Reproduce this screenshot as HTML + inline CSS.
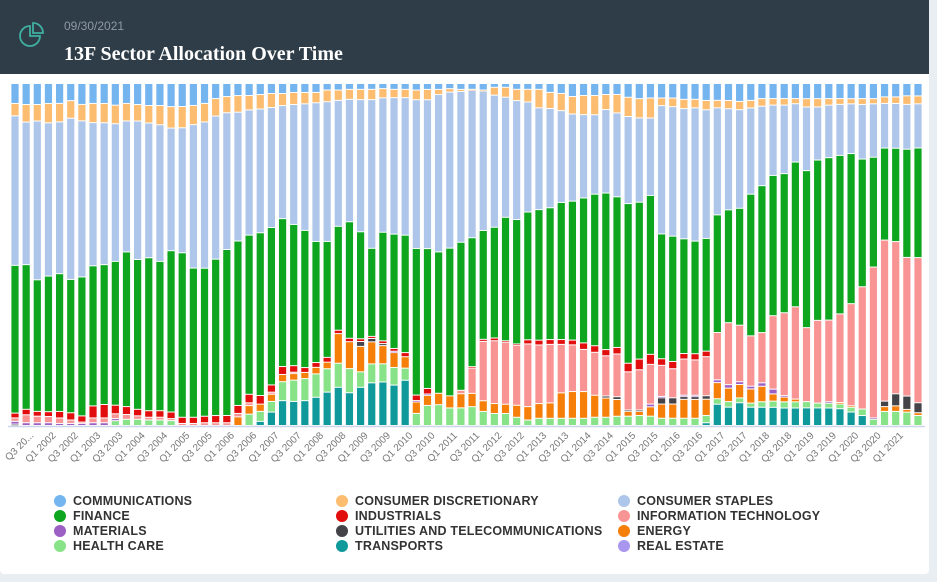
<!DOCTYPE html>
<html><head><meta charset="utf-8">
<style>
body{margin:0;width:937px;height:582px;background:#e9eef2;font-family:"Liberation Sans",sans-serif;overflow:hidden;position:relative}
.card{position:absolute;left:0;top:0;width:929px;height:574px;background:#fff;border-radius:0 0 4px 4px}
.hdr{position:absolute;left:0;top:0;width:929px;height:74px;background:#2e3d48}
.date{position:absolute;left:64px;top:19px;font-size:12px;color:#8e9aa3}
.title{position:absolute;left:64px;top:43px;font-family:"Liberation Serif",serif;font-weight:bold;font-size:20px;color:#fff}
.leg{position:absolute;font-size:12.5px;font-weight:bold;color:#333;letter-spacing:0.2px}
.leg span{display:inline-block;width:12px;height:12px;border-radius:50%;vertical-align:-2px;margin-right:7px}
</style></head><body>
<div class="card"></div>
<div class="hdr">
<svg style="position:absolute;left:19px;top:21px" width="28" height="26" viewBox="0 0 28 26"><path d="M11 5 A10 10 0 1 0 21 15 L11 15 Z" fill="none" stroke="#3fb0a0" stroke-width="1.8"/><path d="M14 2 A10 10 0 0 1 24 12 L14 12 Z" fill="none" stroke="#3fb0a0" stroke-width="1.8"/></svg>
<div class="date">09/30/2021</div>
<div class="title">13F Sector Allocation Over Time</div>
</div>
<svg id="chart" style="position:absolute;left:0;top:0" width="937" height="582"></svg>
<div id="legend"></div>
<script>
const categories=[];(function(){let y=2001,q=2;for(let i=0;i<82;i++){categories.push('Q'+q+' '+y);q++;if(q>4){q=1;y++;}}})();
const transports=[0,0,0,0,0,0,0,0,0,0, 0,0,0,0,0,0,0,0,0,0, 0,0,1.2,3.9,7.2,7.0,7.2,8.2,9.7,11.1, 9.5,11.1,12.4,12.7,11.7,13.1,0,0,0,0, 0,0,0,0,0,0,0,0,0,0, 0,0,0,0,0,0,0,0,0,0, 0,0,0.8,6.2,5.3,6.6,5.3,5.3,5.3,5.1, 5.1,5.1,5.1,5.1,4.9,3.9,2.9,0,0,0, 0,0];
const healthCare=[0,0,0,0,0,0,0,0,0,1.4, 1.8,1.8,1.6,1.6,1.4,0,0,0,0,0, 0,3.3,2.9,3.1,5.5,6.2,6.4,6.8,6.8,7.0, 7.0,4.5,5.5,5.3,5.1,3.5,3.5,5.8,6.0,5.1, 5.1,5.5,4.1,3.5,3.5,2.4,1.6,2.1,2.1,2.1, 2.1,2.1,2.4,2.4,2.7,2.7,2.9,2.7,2.1,2.1, 2.1,2.1,2.1,1.6,1.6,1.4,1.2,1.6,1.8,1.8, 1.8,1.8,1.4,1.4,1.4,1.4,1.9,1.8,4.1,4.1, 3.9,2.9];
const energy=[0,0,0,0,0,0,0,0,0,0, 0,0,0,0,0,0,0,0,0,0, 2.5,2.5,2.1,2.1,2.1,1.9,1.8,1.9,1.9,8.6, 7.8,7.4,6.4,5.3,4.3,3.3,3.3,2.9,3.3,3.5, 4.1,3.9,3.1,2.9,2.7,3.5,3.9,4.3,4.5,7.4, 7.8,7.8,6.4,5.6,4.9,1.4,1.2,2.7,4.1,4.1, 5.5,5.5,4.7,4.7,3.9,3.9,4.1,4.5,2.1,1.4, 0.8,0,0,0,0.4,0.4,0,0,1.4,1.6, 0.8,0.8];
const utilities=[0.4,0,0,0,0,0,0,0,0,0, 0,0,0,0,0,0,0,0,0,0, 0,0,0,0,0,0,0,0,0,0, 0,1.4,1.0,0.6,0,0,0,0,0,0, 0,0,0,0,0,0,0,0,0,0, 0,0,0,0.6,0.8,0.4,0.4,0,1.8,1.8, 0.8,0.8,1.0,0,0,0,0,0,0,0, 0,0,0,0,0,0,0,0,1.6,3.5, 3.9,2.9];
const materials=[0.8,0.8,0.8,0.8,0.6,0.6,0.6,0.8,0.8,0.6, 0,0,0,0,0,0,0,0,0,0, 0,0,0,0,0,0,0,0,0,0, 0,0,0,0,0.4,0,0.4,0.4,0,0, 0,0,0,0,0,0,0,0,0,0, 0,0,0,0,0,0,0,0.8,0.4,0, 0.4,0.4,0,0.8,1.0,0.8,0.8,1.0,1.4,0.4, 0,0,0,0.4,0,0,0,0.4,0,0, 0,0];
const realEstate=new Array(82).fill(0);
const infoTech=[1.0,2.3,1.9,1.8,1.6,1.0,0.4,1.4,1.4,1.4, 1.4,1.0,0.8,0.8,0.6,0.6,0.6,0.8,0.8,0.8, 1.0,0.8,0,0.6,0,0.4,0,0,0,0, 0,0,0,0,0,0,0,0,0,0, 1.0,7.4,17.3,18.3,18.1,17.5,18.3,17.1,17.1,14.1, 13.6,12.3,12.5,11.7,12.5,11.1,11.7,11.5,9.0,8.4, 10.5,10.3,11.3,13.8,17.9,16.4,14.6,14.6,21.4,24.2, 26.9,21.4,24.0,23.8,25.9,29.6,35.6,43.8,46.9,44.2, 40.5,42.1];
const industrials=[1.4,1.6,1.4,1.4,1.9,2.1,1.8,3.5,3.9,2.5, 2.3,1.9,1.9,1.9,1.9,1.8,1.8,1.9,2.1,2.1, 2.3,2.5,2.5,2.1,2.3,1.9,1.4,1.4,1.4,1.0, 1.0,0.8,0.6,0.8,0.8,1.2,1.6,1.6,0,0, 0,0.4,0.6,0.8,0.4,0.4,1.2,1.4,1.4,1.4, 1.4,1.9,1.9,1.8,1.9,2.5,3.1,2.9,1.9,2.1, 1.6,1.8,1.6,0,0,0,0,0,0,0, 0,0,0,0,0,0,0,0,0,0, 0,0];
const finance=[42.9,42.0,38.2,39.3,40.2,38.8,40.5,40.8,40.6,41.8, 45.0,43.5,44.5,43.4,46.7,47.9,43.5,43.1,45.6,48.2, 47.6,46.4,47.2,45.8,42.9,41.1,39.8,35.2,33.7,30.2, 33.8,31.1,25.6,31.7,33.1,34.0,42.4,40.4,40.8,42.9, 42.9,37.7,31.7,32.3,36.0,36.3,37.3,38.1,38.5,39.9, 40.5,42.3,44.1,45.6,44.0,46.4,45.6,46.0,36.1,36.2, 33.3,32.8,32.6,34.3,32.6,33.9,41.1,42.7,40.9,40.6, 42.2,45.4,46.5,47.3,46.3,43.5,37.2,31.9,26.8,27.1, 31.6,31.8];
const staples=[43.4,41.4,46.1,44.4,44.3,46.9,45.5,41.7,41.2,40.0, 38.1,40.2,39.2,39.7,35.5,36.4,41.8,42.6,41.7,39.7, 37.3,36.5,35.9,34.9,32.8,34.9,36.7,40.3,40.6,36.6, 35.5,38.4,43.2,39.2,39.5,39.8,43.0,43.0,45.4,45.3, 43.7,43.1,40.6,38.5,35.0,34.7,32.1,29.7,29.0,26.7, 25.4,24.3,23.1,24.3,24.5,25.3,24.5,22.4,37.1,37.4, 37.8,38.8,37.2,31.2,29.2,28.6,25.0,23.1,20.5,20.0, 17.0,18.4,15.4,15.3,14.9,14.4,15.9,15.5,13.0,13.0, 13.1,12.8];
const discretionary=[3.6,5.1,4.8,5.6,5.4,5.1,4.8,5.6,5.6,5.4, 5.1,4.8,5.1,5.6,6.2,6.2,5.6,5.4,5.1,4.7, 4.8,4.2,4.2,4.1,3.5,3.5,3.3,3.0,3.4,3.0, 2.9,3.0,3.0,2.7,2.4,2.4,2.8,3.0,1.5,1.0, 0.6,0.3,0.3,2.3,2.9,3.3,3.7,5.4,4.7,5.0, 5.1,5.6,5.6,4.4,5.4,5.6,5.6,5.8,2.2,2.5, 2.7,2.5,2.7,2.2,2.4,2.4,2.2,2.2,1.9,1.9, 1.5,2.4,2.4,1.9,1.7,1.5,1.7,1.5,1.9,1.9, 2.5,2.3];
const communications=[5.8,6.1,6.1,5.8,5.8,5.0,6.1,5.8,5.8,6.3, 5.8,6.1,6.4,6.4,6.7,6.7,6.4,5.8,4.4,3.8, 3.5,3.5,3.2,2.9,2.9,2.6,2.6,2.6,1.9,1.9, 1.7,1.7,1.7,1.5,1.7,1.7,1.9,1.7,1.7,1.5, 1.7,1.7,1.9,1.1,1.1,1.7,1.7,1.7,2.6,2.9, 3.8,3.5,3.5,3.2,3.2,4.0,4.4,4.2,4.2,4.2, 4.6,4.6,4.9,4.9,4.9,5.2,4.9,4.4,4.4,4.4, 4.4,4.4,4.4,4.4,4.4,4.4,4.4,4.4,3.9,3.9, 3.6,3.6];

const series=[
 {name:'TRANSPORTS',key:'transports',data:transports,color:'#10999a'},
 {name:'HEALTH CARE',key:'health-care',data:healthCare,color:'#88e388'},
 {name:'ENERGY',key:'energy',data:energy,color:'#f57f09'},
 {name:'UTILITIES AND TELECOMMUNICATIONS',key:'utilities',data:utilities,color:'#434348'},
 {name:'MATERIALS',key:'materials',data:materials,color:'#9c5fc4'},
 {name:'REAL ESTATE',key:'real-estate',data:realEstate,color:'#a996ef'},
 {name:'INFORMATION TECHNOLOGY',key:'information-technology',data:infoTech,color:'#f89594'},
 {name:'INDUSTRIALS',key:'industrials',data:industrials,color:'#e20d0d'},
 {name:'FINANCE',key:'finance',data:finance,color:'#0ea51f'},
 {name:'CONSUMER STAPLES',key:'consumer-staples',data:staples,color:'#adc6ea'},
 {name:'CONSUMER DISCRETIONARY',key:'consumer-discretionary',data:discretionary,color:'#fdbd70'},
 {name:'COMMUNICATIONS',key:'communications',data:communications,color:'#74b4ef'}
];
const NS='http://www.w3.org/2000/svg';
const svg=document.getElementById('chart');
const plotTop=84,plotBottom=426,x0=15,step=(918-15)/(categories.length-1),barW=7.2;
function xScale(i){return x0+i*step;}
function yScale(p){return plotBottom-(p/100)*(plotBottom-plotTop);}
const g=document.createElementNS(NS,'g');


svg.appendChild(g);
categories.forEach((c,i)=>{
  let total=0;series.forEach(s=>total+=s.data[i]);
  let acc=0;
  series.forEach(s=>{
    const v=s.data[i];if(v<=0)return;
    const p0=acc/total*100,p1=(acc+v)/total*100;acc+=v;
    const yTop=yScale(p1),yBot=yScale(p0);
    const r=document.createElementNS(NS,'rect');
    r.setAttribute('x',xScale(i)-barW/2);
    r.setAttribute('y',yTop);
    r.setAttribute('width',barW);
    r.setAttribute('height',Math.max(0.6,yBot-yTop-1));
    r.setAttribute('fill',s.color);
    
    
    g.appendChild(r);
  });
});
const ax=document.createElementNS(NS,'line');
ax.setAttribute('x1',8);ax.setAttribute('x2',925);ax.setAttribute('y1',plotBottom+0.5);ax.setAttribute('y2',plotBottom+0.5);
ax.setAttribute('stroke','#ccd6eb');ax.setAttribute('stroke-width','1.5');


svg.appendChild(ax);
categories.forEach((c,i)=>{
  if(i%2!==1||i>79)return;
  const t=document.createElementNS(NS,'text');
  const x=xScale(i)+8,y=436;
  t.setAttribute('x',x);t.setAttribute('y',y);
  t.setAttribute('transform','rotate(-45 '+x+' '+y+')');
  t.setAttribute('text-anchor','end');
  t.setAttribute('font-size','10');
  t.setAttribute('fill','#777');
  t.setAttribute('font-family','Liberation Sans, sans-serif');
  t.textContent=(i===1)?'Q3 20...':c;
  
  
  svg.appendChild(t);
});
const legendOrder=[['COMMUNICATIONS','#74b4ef'],['CONSUMER DISCRETIONARY','#fdbd70'],['CONSUMER STAPLES','#adc6ea'],['FINANCE','#0ea51f'],['INDUSTRIALS','#e20d0d'],['INFORMATION TECHNOLOGY','#f89594'],['MATERIALS','#9c5fc4'],['UTILITIES AND TELECOMMUNICATIONS','#434348'],['ENERGY','#f57f09'],['HEALTH CARE','#88e388'],['TRANSPORTS','#10999a'],['REAL ESTATE','#a996ef']];
const legCols=[54,336,618];
const lg=document.getElementById('legend');
legendOrder.forEach((e,k)=>{
  const d=document.createElement('div');
  d.className='leg';
  d.style.left=legCols[k%3]+'px';
  d.style.top=(494+Math.floor(k/3)*15)+'px';
  d.innerHTML='<span style="background:'+e[1]+'"></span>'+e[0];
  
  
  lg.appendChild(d);
});
</script>
</body></html>
